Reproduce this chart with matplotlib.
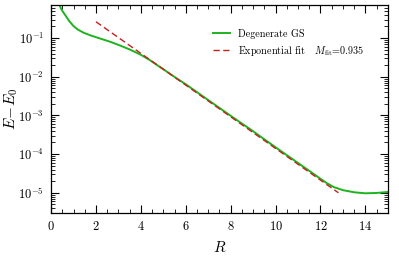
import matplotlib
matplotlib.use('Agg')
import matplotlib.pyplot as plt
from matplotlib.ticker import MultipleLocator, LogLocator, NullFormatter

plt.rcParams.update({
    'font.family': 'serif',
    'font.serif': ['cmr10'],
    'mathtext.fontset': 'cm',
    'axes.formatter.use_mathtext': True,
    'font.size': 9,
    'axes.linewidth': 0.9,
    'xtick.direction': 'in',
    'ytick.direction': 'in',
    'xtick.top': True,
    'ytick.right': True,
})

# degenerate ground state gap E - E0 vs R
R_gs = [0.30, 0.36, 0.45, 0.55, 0.65, 0.80, 1.00, 1.20, 1.45, 1.75, 2.20, 2.62,
        3.00, 3.50, 4.00, 4.40, 4.70, 5.00, 5.50, 6.00, 7.00, 8.00, 9.00, 10.00,
        11.00, 11.50, 12.00, 12.30, 12.60, 13.00, 13.50, 14.00, 14.50, 15.00]
E_gs = [1.40, 0.76, 0.57, 0.46, 0.38, 0.28, 0.205, 0.165, 0.138, 0.118, 0.097,
        0.081, 0.067, 0.051, 0.037, 0.027, 0.0205, 0.0157, 0.0099, 0.0064,
        0.0025, 9.8e-4, 3.9e-4, 1.5e-4, 5.9e-5, 3.7e-5, 2.3e-5, 1.75e-5,
        1.4e-5, 1.17e-5, 1.03e-5, 9.7e-6, 9.9e-6, 1.05e-5]

# exponential fit, endpoints of the dashed line
R_fit = [2.0, 12.8]
E_fit = [0.265, 1.0e-5]
M_fit = 0.935

fig = plt.figure(figsize=(3.99, 2.62), dpi=100)
ax = fig.add_axes([0.128, 0.187, 0.844, 0.794])

ax.plot(R_gs, E_gs, color='#1db31d', lw=1.4, label='Degenerate GS')
ax.plot(R_fit, E_fit, color='#c81e1e', lw=1.0, ls=(0, (4.5, 2.5)),
        label=r'Exponential fit   $M_{\rm fit}$=' + f'{M_fit}')

ax.set_yscale('log')
ax.set_xlim(0, 15)
ax.set_ylim(3.0e-6, 0.72)
ax.xaxis.set_major_locator(MultipleLocator(2))
ax.xaxis.set_minor_locator(MultipleLocator(0.5))
ax.yaxis.set_major_locator(LogLocator(base=10, numticks=12))
ax.yaxis.set_minor_locator(LogLocator(base=10, subs=range(2, 10), numticks=12))
ax.yaxis.set_minor_formatter(NullFormatter())
ax.tick_params(which='major', length=6, width=0.8, labelsize=9, pad=5)
ax.tick_params(which='minor', length=3, width=0.6)

ax.set_xlabel(r'$R$', fontsize=11, labelpad=5)
ax.set_ylabel(r'$E\!-\!E_0$', fontsize=11, labelpad=-1)

ax.legend(loc='upper left', bbox_to_anchor=(0.48, 0.885), frameon=False,
          borderpad=0, borderaxespad=0, fontsize=7.3, handlelength=1.7,
          handletextpad=0.8, labelspacing=0.5)

plt.savefig('out.png', dpi=100)
plt.close()
